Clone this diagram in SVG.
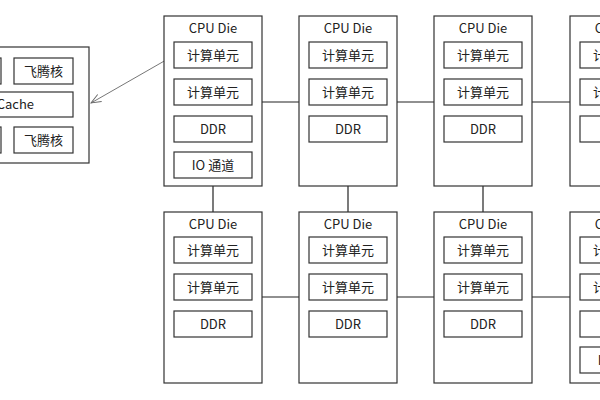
<svg xmlns="http://www.w3.org/2000/svg" width="600" height="400" viewBox="0 0 600 400">
<defs>
<style>
.die{fill:#fff;stroke:#333;stroke-width:1.2}
.unit{fill:#fff;stroke:#333;stroke-width:1.2}
text{font-family:"Noto Sans CJK SC","Noto Sans",sans-serif;font-size:13px;fill:#222;text-anchor:middle}
.conn{stroke:#222;stroke-width:1.2;fill:none}
.arrow{stroke:#666;stroke-width:0.9;fill:none}
</style>
<marker id="open" markerWidth="12" markerHeight="10" refX="11" refY="5" orient="auto" markerUnits="userSpaceOnUse">
<path d="M1,1 L11,5 L1,9" fill="none" stroke="#666" stroke-width="0.9"/>
</marker>
</defs>
<rect width="600" height="400" fill="#fff"/>

<g id="connectors">
<line class="conn" x1="262" y1="102" x2="299" y2="102"/>
<line class="conn" x1="397" y1="102" x2="434" y2="102"/>
<line class="conn" x1="532" y1="102" x2="570" y2="102"/>
<line class="conn" x1="262" y1="297" x2="299" y2="297"/>
<line class="conn" x1="397" y1="297" x2="434" y2="297"/>
<line class="conn" x1="532" y1="297" x2="570" y2="297"/>
<line class="conn" x1="213" y1="186" x2="213" y2="212"/>
<line class="conn" x1="348" y1="186" x2="348" y2="212"/>
<line class="conn" x1="483" y1="186" x2="483" y2="212"/>
<line class="arrow" x1="173" y1="56" x2="91" y2="103" marker-end="url(#open)"/>
</g>

<g id="cpu-detail">
<rect class="die" x="-100" y="47" width="189" height="116"/>
<rect class="unit" x="-60" y="58" width="61" height="26"/>
<rect class="unit" x="14" y="58" width="59" height="26"/>
<text x="43.5" y="75.5">飞腾核</text>
<rect class="unit" x="-100" y="92" width="173" height="25"/>
<text x="34" y="109" style="text-anchor:end">Cache</text>
<rect class="unit" x="-60" y="127" width="61" height="26"/>
<rect class="unit" x="14" y="127" width="59" height="26"/>
<text x="43.5" y="144.5">飞腾核</text>
</g>

<g id="die-r1c1">
<rect class="die" x="164" y="16" width="98" height="170"/>
<text x="213" y="33">CPU Die</text>
<rect class="unit" x="174" y="42" width="78" height="26"/><text x="213" y="59.5">计算单元</text>
<rect class="unit" x="174" y="79" width="78" height="26"/><text x="213" y="96.5">计算单元</text>
<rect class="unit" x="174" y="116" width="78" height="26"/><text x="213" y="133.5">DDR</text>
<rect class="unit" x="174" y="152" width="78" height="26"/><text x="213" y="169.5">IO 通道</text>
</g>

<g id="die-r1c2">
<rect class="die" x="299" y="16" width="98" height="170"/>
<text x="348" y="33">CPU Die</text>
<rect class="unit" x="309" y="42" width="78" height="26"/><text x="348" y="59.5">计算单元</text>
<rect class="unit" x="309" y="79" width="78" height="26"/><text x="348" y="96.5">计算单元</text>
<rect class="unit" x="309" y="116" width="78" height="26"/><text x="348" y="133.5">DDR</text>
</g>

<g id="die-r1c3">
<rect class="die" x="434" y="16" width="98" height="170"/>
<text x="483" y="33">CPU Die</text>
<rect class="unit" x="444" y="42" width="78" height="26"/><text x="483" y="59.5">计算单元</text>
<rect class="unit" x="444" y="79" width="78" height="26"/><text x="483" y="96.5">计算单元</text>
<rect class="unit" x="444" y="116" width="78" height="26"/><text x="483" y="133.5">DDR</text>
</g>

<g id="die-r1c4">
<rect class="die" x="570" y="16" width="98" height="170"/>
<text x="619" y="33">CPU Die</text>
<rect class="unit" x="580" y="42" width="78" height="26"/><text x="619" y="59.5">计算单元</text>
<rect class="unit" x="580" y="79" width="78" height="26"/><text x="619" y="96.5">计算单元</text>
<rect class="unit" x="580" y="116" width="78" height="26"/><text x="619" y="133.5">DDR</text>
</g>

<g id="die-r2c1">
<rect class="die" x="164" y="212" width="98" height="171"/>
<text x="213" y="229">CPU Die</text>
<rect class="unit" x="174" y="237" width="78" height="26"/><text x="213" y="254.5">计算单元</text>
<rect class="unit" x="174" y="274" width="78" height="26"/><text x="213" y="291.5">计算单元</text>
<rect class="unit" x="174" y="311" width="78" height="26"/><text x="213" y="328.5">DDR</text>
</g>

<g id="die-r2c2">
<rect class="die" x="299" y="212" width="98" height="171"/>
<text x="348" y="229">CPU Die</text>
<rect class="unit" x="309" y="237" width="78" height="26"/><text x="348" y="254.5">计算单元</text>
<rect class="unit" x="309" y="274" width="78" height="26"/><text x="348" y="291.5">计算单元</text>
<rect class="unit" x="309" y="311" width="78" height="26"/><text x="348" y="328.5">DDR</text>
</g>

<g id="die-r2c3">
<rect class="die" x="434" y="212" width="98" height="171"/>
<text x="483" y="229">CPU Die</text>
<rect class="unit" x="444" y="237" width="78" height="26"/><text x="483" y="254.5">计算单元</text>
<rect class="unit" x="444" y="274" width="78" height="26"/><text x="483" y="291.5">计算单元</text>
<rect class="unit" x="444" y="311" width="78" height="26"/><text x="483" y="328.5">DDR</text>
</g>

<g id="die-r2c4">
<rect class="die" x="570" y="212" width="98" height="171"/>
<text x="619" y="229">CPU Die</text>
<rect class="unit" x="580" y="237" width="78" height="26"/><text x="619" y="254.5">计算单元</text>
<rect class="unit" x="580" y="274" width="78" height="26"/><text x="619" y="291.5">计算单元</text>
<rect class="unit" x="580" y="311" width="78" height="26"/><text x="619" y="328.5">DDR</text>
<rect class="unit" x="580" y="347" width="78" height="26"/><text x="619" y="364.5">IO 通道</text>
</g>
</svg>
